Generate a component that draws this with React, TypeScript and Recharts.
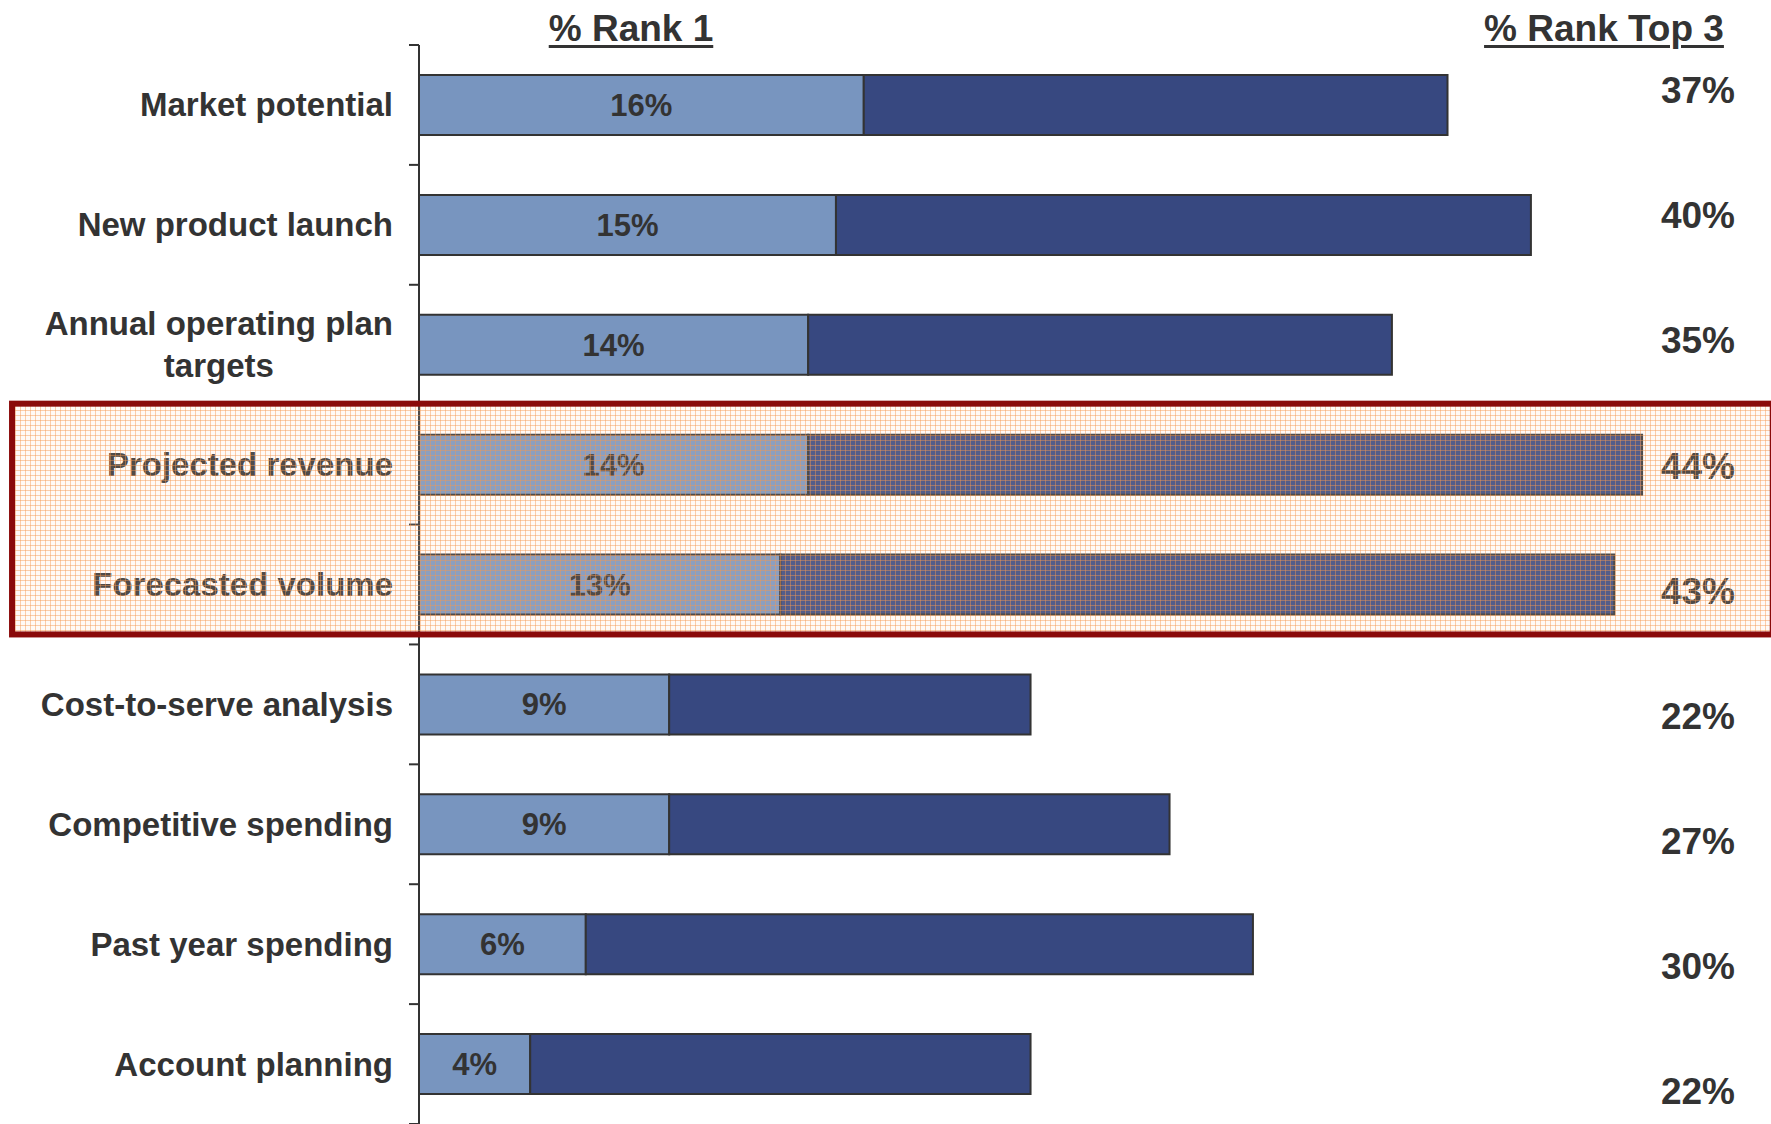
import React from 'react';
import { BarChart, Bar, XAxis, YAxis, LabelList, ReferenceArea } from 'recharts';

const categories = [
  'Market potential',
  'New product launch',
  'Annual operating plan\ntargets',
  'Projected revenue',
  'Forecasted volume',
  'Cost-to-serve analysis',
  'Competitive spending',
  'Past year spending',
  'Account planning',
];
const rank1 = [16, 15, 14, 14, 13, 9, 9, 6, 4];
const top3 = [37, 40, 35, 44, 43, 22, 27, 30, 22];
const headerRank1 = '% Rank 1';
const headerTop3 = '% Rank Top 3';
const highlightFrom = 'Projected revenue';
const highlightTo = 'Forecasted volume';

const data = categories.map((name, i) => ({
  name,
  rank1: rank1[i],
  rest: top3[i] - rank1[i],
}));

const FONT = '"Liberation Sans", Arial, Helvetica, sans-serif';
const TEXT = '#333333';

const CHART_W = 1771;
const CHART_H = 1124;
const TOP = 45;
const LEFT_W = 419;
const RIGHT_W = 115;
const BAND = (CHART_H - TOP) / categories.length;
const LEFT_TICK_MARGIN = 26;
// the right-hand column of labels sits on its own slightly wider pitch
const RIGHT_PITCH_EXTRA = 5.2;
const RIGHT_SHIFT = -14.6;

let measureCtx: CanvasRenderingContext2D | null = null;
const measure = (t: string, font: string) => {
  if (!measureCtx) measureCtx = document.createElement('canvas').getContext('2d');
  if (!measureCtx) return t.length * 18;
  measureCtx.font = font;
  return measureCtx.measureText(t).width;
};

const LeftTick = (props: any) => {
  const { x, y, payload, index } = props;
  const lines = String(payload.value).split('\n');
  const fs = 33;
  const axisX = x + LEFT_TICK_MARGIN;
  const marks = (
    <g>
      <line x1={axisX - 10} x2={axisX} y1={y - BAND / 2} y2={y - BAND / 2} stroke={TEXT} strokeWidth={2} />
      {index === categories.length - 1 ? (
        <line x1={axisX - 10} x2={axisX} y1={y + BAND / 2} y2={y + BAND / 2} stroke={TEXT} strokeWidth={2} />
      ) : null}
    </g>
  );
  if (lines.length === 1) {
    return (
      <g>
        {marks}
        <text x={x} y={y} dy="0.35em" textAnchor="end" fontFamily={FONT} fontSize={fs} fontWeight="bold" fill={TEXT}>
          {lines[0]}
        </text>
      </g>
    );
  }
  const w = Math.max(...lines.map((l) => measure(l, `bold ${fs}px ${FONT}`)));
  const cx = x - w / 2;
  const lh = 42;
  return (
    <g>
      {marks}
      <text textAnchor="middle" fontFamily={FONT} fontSize={fs} fontWeight="bold" fill={TEXT}>
        {lines.map((l, i) => (
          <tspan key={i} x={cx} y={y + (i - (lines.length - 1) / 2) * lh} dy="0.35em">
            {l}
          </tspan>
        ))}
      </text>
    </g>
  );
};

const RightTick = (props: any) => {
  const { x, y, index } = props;
  const ly = y + RIGHT_SHIFT + RIGHT_PITCH_EXTRA * index;
  return (
    <text x={x + 42} y={ly} dy="0.35em" textAnchor="middle" fontFamily={FONT} fontSize={37} fontWeight="bold" fill={TEXT}>
      {`${top3[index]}%`}
    </text>
  );
};

const HighlightBox = (props: any) => {
  const { x, y, width, height } = props;
  return (
    <rect
      x={x}
      y={y - 1}
      width={width}
      height={height - 9}
      fill="url(#peachGrid)"
      stroke="#8A0A0A"
      strokeWidth={6}
    />
  );
};

const headerStyle: React.CSSProperties = {
  position: 'absolute',
  width: 400,
  textAlign: 'center',
  fontFamily: FONT,
  fontWeight: 'bold',
  fontSize: 37,
  lineHeight: '37px',
  color: TEXT,
  textDecoration: 'underline',
  textDecorationThickness: '3px',
  textUnderlineOffset: '4px',
  whiteSpace: 'nowrap',
};

export default function App() {
  return (
    <div style={{ position: 'absolute', left: 0, top: 0, width: CHART_W, height: CHART_H, overflow: 'hidden', background: '#fff' }}>
      <BarChart
        width={CHART_W}
        height={CHART_H}
        data={data}
        layout="vertical"
        margin={{ top: TOP, right: 0, bottom: 0, left: 0 }}
        barSize={60}
      >
        <defs>
          <pattern id="peachGrid" width="5" height="5" patternUnits="userSpaceOnUse">
            <rect width="5" height="5" fill="rgba(253,222,196,0.14)" />
            <path d="M0 0.5H5M0.5 0V5" stroke="rgba(244,150,80,0.45)" strokeWidth="1" />
          </pattern>
        </defs>
        <XAxis type="number" domain={[0, 44.5]} hide allowDataOverflow />
        <YAxis
          type="category"
          dataKey="name"
          width={LEFT_W}
          interval={0}
          tickSize={0}
          tickMargin={LEFT_TICK_MARGIN}
          tickLine={false}
          axisLine={{ stroke: TEXT, strokeWidth: 2 }}
          tick={<LeftTick />}
        />
        <YAxis
          yAxisId="right"
          type="category"
          dataKey="name"
          orientation="right"
          width={RIGHT_W}
          interval={0}
          axisLine={false}
          tickLine={false}
          tickSize={0}
          tickMargin={0}
          tick={<RightTick />}
        />
        <Bar dataKey="rank1" stackId="s" fill="#7895BF" stroke={TEXT} strokeWidth={2} isAnimationActive={false}>
          <LabelList
            dataKey="rank1"
            position="center"
            formatter={(v: any) => `${v}%`}
            fill={TEXT}
            fontSize={31}
            fontWeight="bold"
            fontFamily={FONT}
          />
        </Bar>
        <Bar dataKey="rest" stackId="s" fill="#374880" stroke={TEXT} strokeWidth={2} isAnimationActive={false} />
        <ReferenceArea
          x1={-14.64}
          x2={48.7}
          y1={highlightFrom}
          y2={highlightTo}
          ifOverflow="visible"
          shape={<HighlightBox />}
          zIndex={2500}
        />
      </BarChart>
      <div style={{ ...headerStyle, left: 631 - 200, top: 10 }}>{headerRank1}</div>
      <div style={{ ...headerStyle, left: 1604 - 200, top: 10 }}>{headerTop3}</div>
    </div>
  );
}
